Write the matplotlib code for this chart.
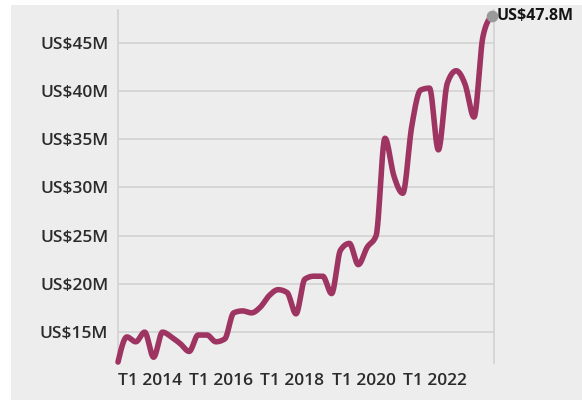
import numpy as np
import matplotlib
matplotlib.use("Agg")
import matplotlib.pyplot as plt
from matplotlib.patches import Rectangle

# ---- data (quarterly, T1 2014 .. T3 2024), US$ millions ----
values = [11.9, 14.5, 14.0, 15.0, 12.4, 15.0, 14.5, 13.8, 13.0, 14.7,
          14.7, 14.0, 14.3, 17.0, 17.2, 17.0, 17.6, 18.8, 19.4, 19.1,
          16.9, 20.5, 20.8, 20.8, 19.0, 23.5, 24.2, 22.0, 23.8, 25.0,
          35.1, 31.2, 29.4, 36.3, 40.1, 40.3, 33.9, 40.8, 42.1, 40.7,
          37.3, 45.6, 47.8]
x_tick_index = [0, 8, 16, 24, 32]
x_tick_labels = ["T1 2014", "T1 2016", "T1 2018", "T1 2020", "T1 2022"]
y_ticks = [15, 20, 25, 30, 35, 40, 45]
y_tick_labels = ["US$15M", "US$20M", "US$25M", "US$30M", "US$35M", "US$40M", "US$45M"]
last_label = "US$47.8M"

LINE = "#9E3461"
TEXT = "#2b2b2b"
PANEL = "#EDEDED"
GRID = "#D4D4D4"
FONT = ["Open Sans", "DejaVu Sans"]


def monotone_x(x, y, n=24):
    """Monotone cubic (d3 curveMonotoneX style) rendering of the data."""
    x = np.asarray(x, float)
    y = np.asarray(y, float)
    h = np.diff(x)
    s = np.diff(y) / h
    m = np.zeros_like(y)
    for i in range(1, len(y) - 1):
        p = (s[i - 1] * h[i] + s[i] * h[i - 1]) / (h[i - 1] + h[i])
        m[i] = (np.sign(s[i - 1]) + np.sign(s[i])) * min(abs(s[i - 1]), abs(s[i]), 0.5 * abs(p))
    m[0] = (3 * s[0] - m[1]) / 2
    m[-1] = (3 * s[-1] - m[-2]) / 2
    xs, ys = [], []
    for i in range(len(x) - 1):
        t = np.linspace(0, 1, n, endpoint=False)
        h00 = 2 * t**3 - 3 * t**2 + 1
        h10 = t**3 - 2 * t**2 + t
        h01 = -2 * t**3 + 3 * t**2
        h11 = t**3 - t**2
        xs.append(x[i] + t * h[i])
        ys.append(h00 * y[i] + h10 * h[i] * m[i] + h01 * y[i + 1] + h11 * h[i] * m[i + 1])
    xs.append([x[-1]])
    ys.append([y[-1]])
    return np.concatenate(xs), np.concatenate(ys)


W, H = 582, 400
fig = plt.figure(figsize=(W / 100, H / 100), dpi=100)
fig.patches.append(Rectangle((11 / W, 0), 1, 1 - 5 / H, transform=fig.transFigure,
                             facecolor=PANEL, edgecolor="none", zorder=-10))

ax = fig.add_axes([118 / W, 1 - 363 / H, (494 - 118) / W, (363 - 10) / H])
ax.set_facecolor("none")

idx = np.arange(len(values))
sx, sy = monotone_x(idx, values)
ax.plot(sx, sy, color=LINE, lw=4.0, solid_capstyle="round", solid_joinstyle="round",
        clip_on=False, zorder=3)
ax.scatter([idx[-1]], [values[-1]], s=55, color="#9A9A9A", zorder=4, clip_on=False)
ax.annotate(last_label, (idx[-1], values[-1]), xytext=(3.5, 0), textcoords="offset points",
            va="center", ha="left", fontsize=11.5, fontweight="bold", color="#151515",
            family=FONT, annotation_clip=False)

ax.set_xlim(0, 42.25)
ax.set_ylim(11.8, 48.4)

ax.set_yticks(y_ticks)
ax.set_yticklabels(y_tick_labels)
ax.set_xticks(x_tick_index)
ax.set_xticklabels(x_tick_labels)
for lab in ax.get_xticklabels():
    lab.set_ha("left")
for lab in ax.get_xticklabels() + ax.get_yticklabels():
    lab.set_family(FONT)
    lab.set_fontsize(12.5)
    lab.set_fontweight(600)
    lab.set_color(TEXT)

ax.tick_params(axis="both", length=0)
ax.tick_params(axis="y", pad=7)
ax.tick_params(axis="x", pad=7)
ax.yaxis.grid(True, color=GRID, lw=1.3)
ax.set_axisbelow(True)
for side in ("top", "bottom"):
    ax.spines[side].set_visible(False)
for side in ("left", "right"):
    ax.spines[side].set_color(GRID)
    ax.spines[side].set_linewidth(1.3)

fig.savefig("out.png", dpi=100)
